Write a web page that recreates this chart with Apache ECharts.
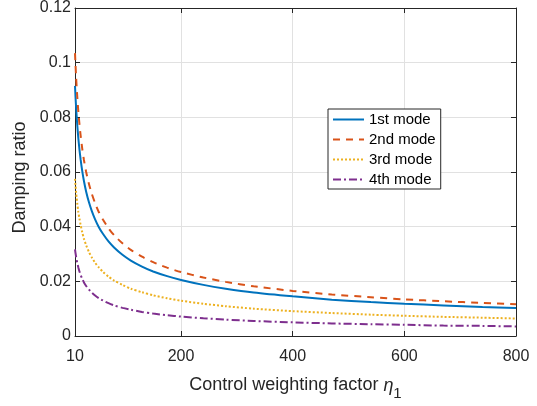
<!DOCTYPE html>
<html>
<head>
<meta charset="utf-8">
<script src="https://cdn.jsdelivr.net/npm/echarts@6/dist/echarts.min.js"></script>
<style>
  html, body { margin: 0; padding: 0; background: #fff; }
  #chart { width: 537px; height: 406px; }
</style>
</head>
<body>
<div id="chart"></div>
<script>
// Control weighting factor eta_1 (sample positions along the x axis)
const eta = [10, 11, 12, 13, 14, 16, 18, 20, 23, 26, 30, 35, 40, 46, 53, 60, 70, 80, 95, 110,
             130, 150, 175, 200, 240, 280, 330, 400, 470, 540, 600, 670, 740, 800];

// Damping ratio of each mode at the sampled eta values
const mode1 = [0.0915, 0.0872, 0.0835, 0.0803, 0.0773, 0.0723, 0.0682, 0.0647, 0.0603, 0.0567, 0.0528, 0.0489,
               0.0458, 0.0427, 0.0397, 0.0374, 0.0346, 0.0324, 0.0297, 0.0276, 0.0254, 0.0236, 0.0219, 0.0205,
               0.0187, 0.0173, 0.0159, 0.0145, 0.0133, 0.0124, 0.0118, 0.0112, 0.0106, 0.0102];
const mode2 = [0.1035, 0.0988, 0.0946, 0.0910, 0.0877, 0.0820, 0.0774, 0.0735, 0.0685, 0.0644, 0.0600, 0.0556,
               0.0521, 0.0486, 0.0452, 0.0426, 0.0394, 0.0369, 0.0339, 0.0315, 0.0290, 0.0270, 0.0250, 0.0234,
               0.0214, 0.0198, 0.0182, 0.0165, 0.0152, 0.0142, 0.0134, 0.0127, 0.0121, 0.0116];
const mode3 = [0.0575, 0.0548, 0.0525, 0.0504, 0.0486, 0.0454, 0.0429, 0.0407, 0.0379, 0.0356, 0.0332, 0.0307,
               0.0288, 0.0268, 0.0250, 0.0235, 0.0217, 0.0203, 0.0187, 0.0173, 0.0160, 0.0149, 0.0138, 0.0129,
               0.0118, 0.0109, 0.0100, 0.0091, 0.0084, 0.0078, 0.0074, 0.0070, 0.0067, 0.0064];
const mode4 = [0.0317, 0.0302, 0.0289, 0.0278, 0.0268, 0.0251, 0.0236, 0.0224, 0.0209, 0.0196, 0.0183, 0.0170,
               0.0159, 0.0148, 0.0138, 0.0130, 0.0120, 0.0112, 0.0103, 0.0096, 0.0088, 0.0082, 0.0076, 0.0071,
               0.0065, 0.0060, 0.0055, 0.0050, 0.0046, 0.0043, 0.0041, 0.0038, 0.0037, 0.0035];

const seriesNames = ['1st mode', '2nd mode', '3rd mode', '4th mode'];
const xTicks = [10, 200, 400, 600, 800];

const FONT = '"Liberation Sans", Arial, Helvetica, sans-serif';
const INK = '#262626';

const chart = echarts.init(document.getElementById('chart'), null, { renderer: 'canvas' });

function pairs(ys) { return eta.map((x, i) => [x, ys[i]]); }

function lineSeries(name, ys, color, type) {
  return {
    name: name,
    type: 'line',
    data: pairs(ys),
    showSymbol: false,
    symbol: 'none',
    smooth: 0.25,
    lineStyle: { color: color, width: 2, type: type },
    itemStyle: { color: color },
    z: 3
  };
}

const frameAxis = {
  axisLine: { show: true, onZero: false, lineStyle: { color: INK, width: 1 } },
  axisTick: { show: true, inside: true, length: 5, lineStyle: { color: INK } },
  axisLabel: { show: false },
  splitLine: { show: false }
};

chart.setOption({
  animation: false,
  backgroundColor: '#fff',
  grid: { left: 75, right: 21, top: 6, bottom: 63, containLabel: false },
  xAxis: [{
    type: 'value',
    min: 10, max: 800,
    position: 'bottom',
    name: '{a|Control weighting factor }{b|η}{c|1}',
    nameLocation: 'middle',
    nameGap: 34,
    nameTextStyle: {
      color: INK,
      rich: {
        a: { fontFamily: FONT, fontSize: 18, color: INK },
        b: { fontFamily: FONT, fontSize: 18, fontStyle: 'italic', color: INK },
        c: { fontFamily: FONT, fontSize: 15, color: INK, padding: [16, 0, 0, 0] }
      }
    },
    axisLine: { show: true, onZero: false, lineStyle: { color: INK, width: 1 } },
    axisTick: { show: true, inside: true, length: 5, customValues: xTicks, lineStyle: { color: INK } },
    axisLabel: { customValues: xTicks, color: INK, fontFamily: FONT, fontSize: 16, margin: 13 },
    splitLine: { show: true, lineStyle: { color: '#e1e1e1', width: 1 } }
  }, Object.assign({
    type: 'value', min: 10, max: 800, position: 'top'
  }, frameAxis, {
    axisTick: { show: true, inside: true, length: 5, customValues: xTicks, lineStyle: { color: INK } }
  })],
  yAxis: [{
    type: 'value',
    min: 0, max: 0.12, interval: 0.02,
    position: 'left',
    name: 'Damping ratio',
    nameLocation: 'middle',
    nameGap: 43,
    nameTextStyle: { color: INK, fontFamily: FONT, fontSize: 18, padding: [0, 11, 0, 0] },
    axisLine: { show: true, onZero: false, lineStyle: { color: INK, width: 1 } },
    axisTick: { show: true, inside: true, length: 5, lineStyle: { color: INK } },
    axisLabel: {
      color: INK, fontFamily: FONT, fontSize: 16, margin: 4,
      formatter: v => (Math.abs(v) < 1e-9 ? '0' : String(+v.toFixed(2)))
    },
    splitLine: { show: true, lineStyle: { color: '#e1e1e1', width: 1 } }
  }, Object.assign({
    type: 'value', min: 0, max: 0.12, interval: 0.02, position: 'right'
  }, frameAxis)],
  legend: {
    data: seriesNames,
    orient: 'vertical',
    left: 328,
    top: 109,
    itemWidth: 31,
    itemHeight: 12,
    itemGap: 5,
    padding: [3, 5, 2, 4],
    backgroundColor: '#fff',
    borderColor: INK,
    borderWidth: 1,
    borderRadius: 0,
    itemStyle: { opacity: 0 },
    textStyle: { color: '#000', fontFamily: FONT, fontSize: 15 }
  },
  series: [
    lineSeries(seriesNames[0], mode1, '#0072BD', 'solid'),
    lineSeries(seriesNames[1], mode2, '#D95319', [7, 6]),
    lineSeries(seriesNames[2], mode3, '#EDB120', [2, 2]),
    lineSeries(seriesNames[3], mode4, '#7E2F8E', [8, 3, 2, 3])
  ]
});
</script>
</body>
</html>
